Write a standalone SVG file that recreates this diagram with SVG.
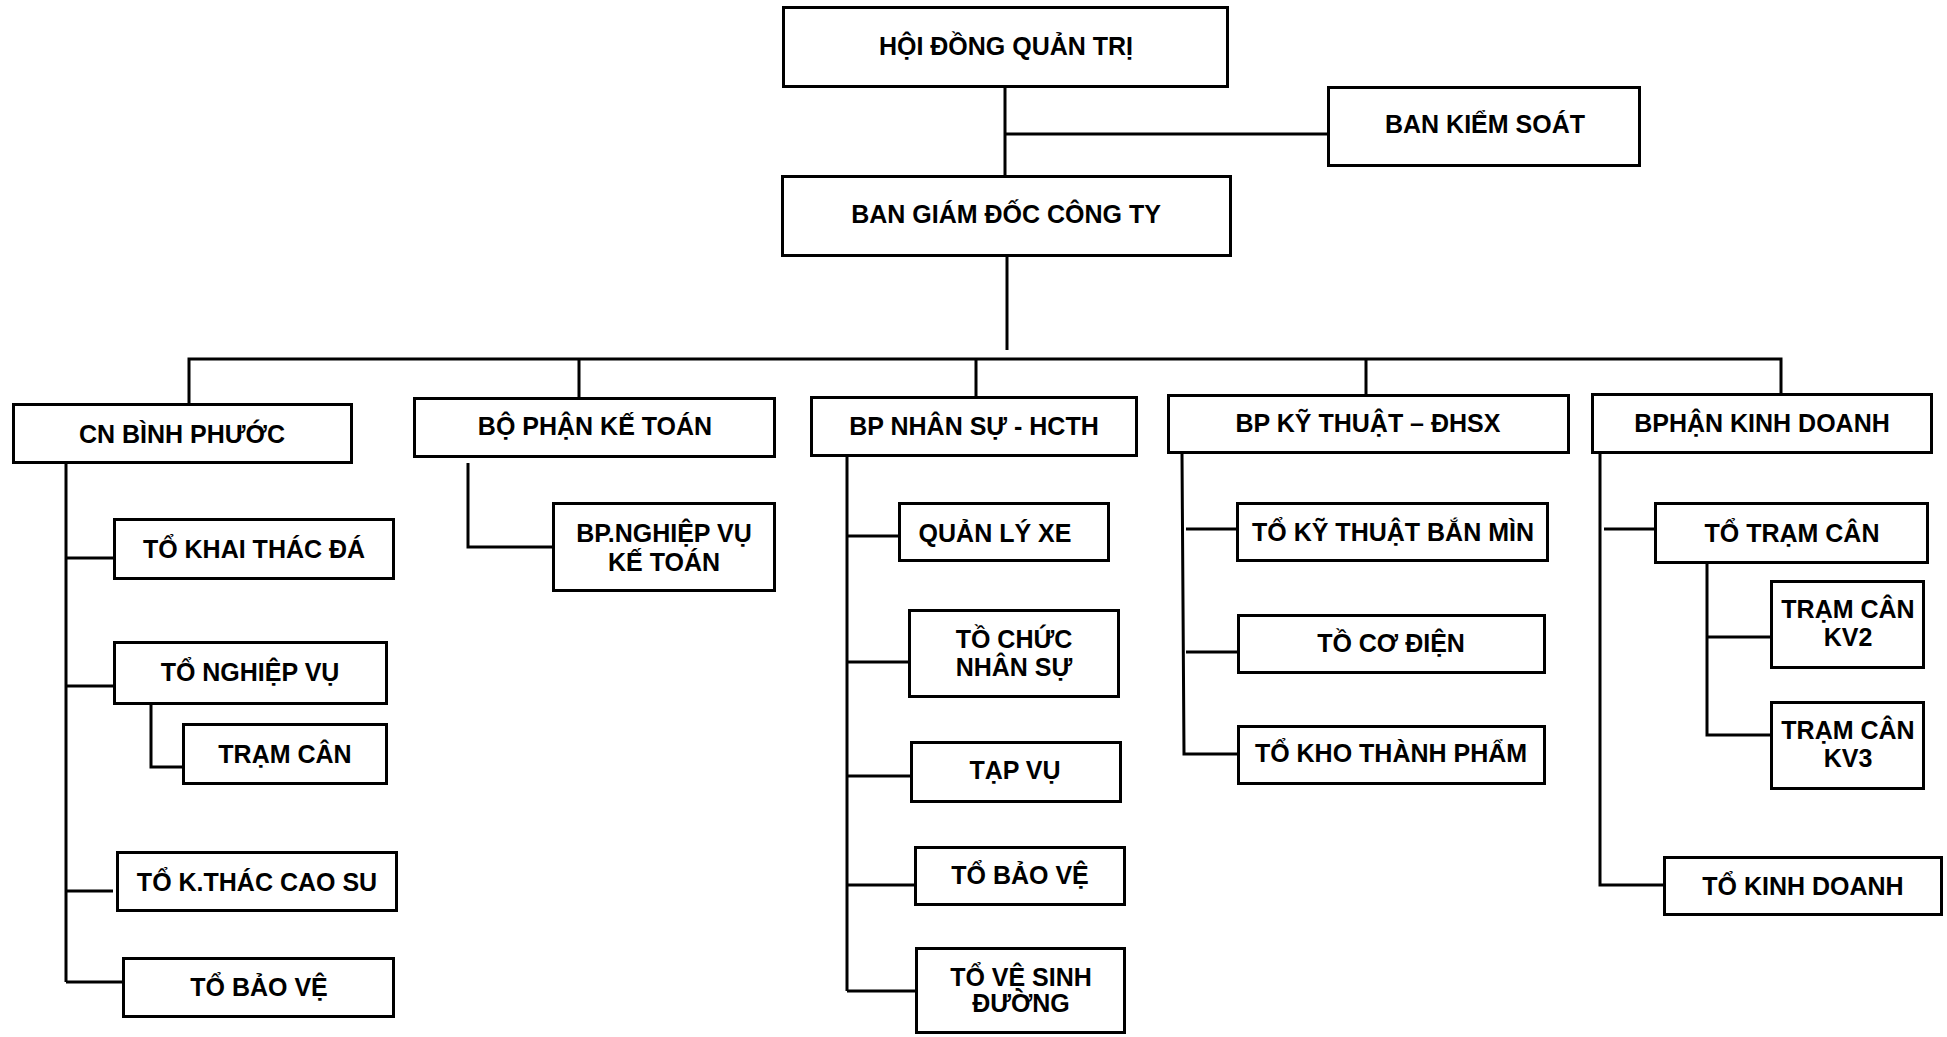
<svg xmlns="http://www.w3.org/2000/svg" width="1947" height="1037" viewBox="0 0 1947 1037">
<style>
.box{fill:#fff;stroke:#000;stroke-width:3}
.ln{fill:none;stroke:#000;stroke-width:3}
text{font-family:"Liberation Sans",Arial,Helvetica,sans-serif;font-weight:bold;font-size:25px;fill:#000;text-anchor:middle}
</style>
<rect width="1947" height="1037" fill="#fff"/>
<g id="connectors">
<path class="ln" d="M1005 88V175M1005 134H1327"/>
<path class="ln" d="M1007 257V350"/>
<path class="ln" d="M189 403V359H1781V393M579 359V397M976 359V396M1366 359V394"/>
<path class="ln" d="M66 464V982M66 558H113M66 686H113M66 891H113M66 982H122"/>
<path class="ln" d="M151 705V767H182"/>
<path class="ln" d="M468 463V547H552"/>
<path class="ln" d="M847 457V991M847 536H898M847 662H908M847 776H910M847 885H914M847 991H915"/>
<path class="ln" d="M1182 454L1184 754H1237M1186 529H1236M1186 652H1237"/>
<path class="ln" d="M1600 454V885H1663M1604 529H1654"/>
<path class="ln" d="M1707 564V735H1770M1707 637H1770"/>
</g>
<g id="hdqt"><rect class="box" x="783.5" y="7.5" width="444" height="79"/><text x="1006" y="55">HỘI ĐỒNG QUẢN TRỊ</text></g>
<g id="bks"><rect class="box" x="1328.5" y="87.5" width="311" height="78"/><text x="1485" y="133">BAN KIỂM SOÁT</text></g>
<g id="bgd"><rect class="box" x="782.5" y="176.5" width="448" height="79"/><text x="1006" y="223">BAN GIÁM ĐỐC CÔNG TY</text></g>
<g id="cn"><rect class="box" x="13.5" y="404.5" width="338" height="58"/><text x="182" y="443">CN BÌNH PHƯỚC</text></g>
<g id="ketoan"><rect class="box" x="414.5" y="398.5" width="360" height="58"/><text x="595" y="435">BỘ PHẬN KẾ TOÁN</text></g>
<g id="nhansu"><rect class="box" x="811.5" y="397.5" width="325" height="58"/><text x="974" y="435">BP NHÂN SỰ - HCTH</text></g>
<g id="kythuat"><rect class="box" x="1168.5" y="395.5" width="400" height="57"/><text x="1368" y="432">BP KỸ THUẬT – ĐHSX</text></g>
<g id="kinhdoanh"><rect class="box" x="1592.5" y="394.5" width="339" height="58"/><text x="1762" y="432">BPHẬN KINH DOANH</text></g>
<g id="khaithac"><rect class="box" x="114.5" y="519.5" width="279" height="59"/><text x="254" y="558">TỔ KHAI THÁC ĐÁ</text></g>
<g id="nghiepvu"><rect class="box" x="114.5" y="642.5" width="272" height="61"/><text x="250" y="681">TỔ NGHIỆP VỤ</text></g>
<g id="tramcan1"><rect class="box" x="183.5" y="724.5" width="203" height="59"/><text x="285" y="763">TRẠM CÂN</text></g>
<g id="caosu"><rect class="box" x="117.5" y="852.5" width="279" height="58"/><text x="257" y="891">TỔ K.THÁC CAO SU</text></g>
<g id="baove1"><rect class="box" x="123.5" y="958.5" width="270" height="58"/><text x="259" y="996">TỔ BẢO VỆ</text></g>
<g id="nvketoan"><rect class="box" x="553.5" y="503.5" width="221" height="87"/><text x="664" y="542">BP.NGHIỆP VỤ</text><text x="664" y="571">KẾ TOÁN</text></g>
<g id="qlxe"><rect class="box" x="899.5" y="503.5" width="209" height="57"/><text x="995" y="542">QUẢN LÝ XE</text></g>
<g id="tochuc"><rect class="box" x="909.5" y="610.5" width="209" height="86"/><text x="1014" y="648">TỒ CHỨC</text><text x="1014" y="676">NHÂN SỰ</text></g>
<g id="tapvu"><rect class="box" x="911.5" y="742.5" width="209" height="59"/><text x="1015" y="779">TẠP VỤ</text></g>
<g id="baove2"><rect class="box" x="915.5" y="847.5" width="209" height="57"/><text x="1020" y="884">TỔ BẢO VỆ</text></g>
<g id="vesinh"><rect class="box" x="916.5" y="948.5" width="208" height="84"/><text x="1021" y="986">TỔ VỆ SINH</text><text x="1021" y="1012">ĐƯỜNG</text></g>
<g id="banmin"><rect class="box" x="1237.5" y="503.5" width="310" height="57"/><text x="1393" y="541">TỔ KỸ THUẬT BẮN MÌN</text></g>
<g id="codien"><rect class="box" x="1238.5" y="615.5" width="306" height="57"/><text x="1391" y="652">TỒ CƠ ĐIỆN</text></g>
<g id="kho"><rect class="box" x="1238.5" y="726.5" width="306" height="57"/><text x="1391" y="762">TỔ KHO THÀNH PHẨM</text></g>
<g id="tramcan"><rect class="box" x="1655.5" y="503.5" width="272" height="59"/><text x="1792" y="542">TỔ TRẠM CÂN</text></g>
<g id="kv2"><rect class="box" x="1771.5" y="581.5" width="152" height="86"/><text x="1848" y="618">TRẠM CÂN</text><text x="1848" y="646">KV2</text></g>
<g id="kv3"><rect class="box" x="1771.5" y="702.5" width="152" height="86"/><text x="1848" y="739">TRẠM CÂN</text><text x="1848" y="767">KV3</text></g>
<g id="tokd"><rect class="box" x="1664.5" y="857.5" width="277" height="57"/><text x="1803" y="895">TỔ KINH DOANH</text></g>
</svg>
